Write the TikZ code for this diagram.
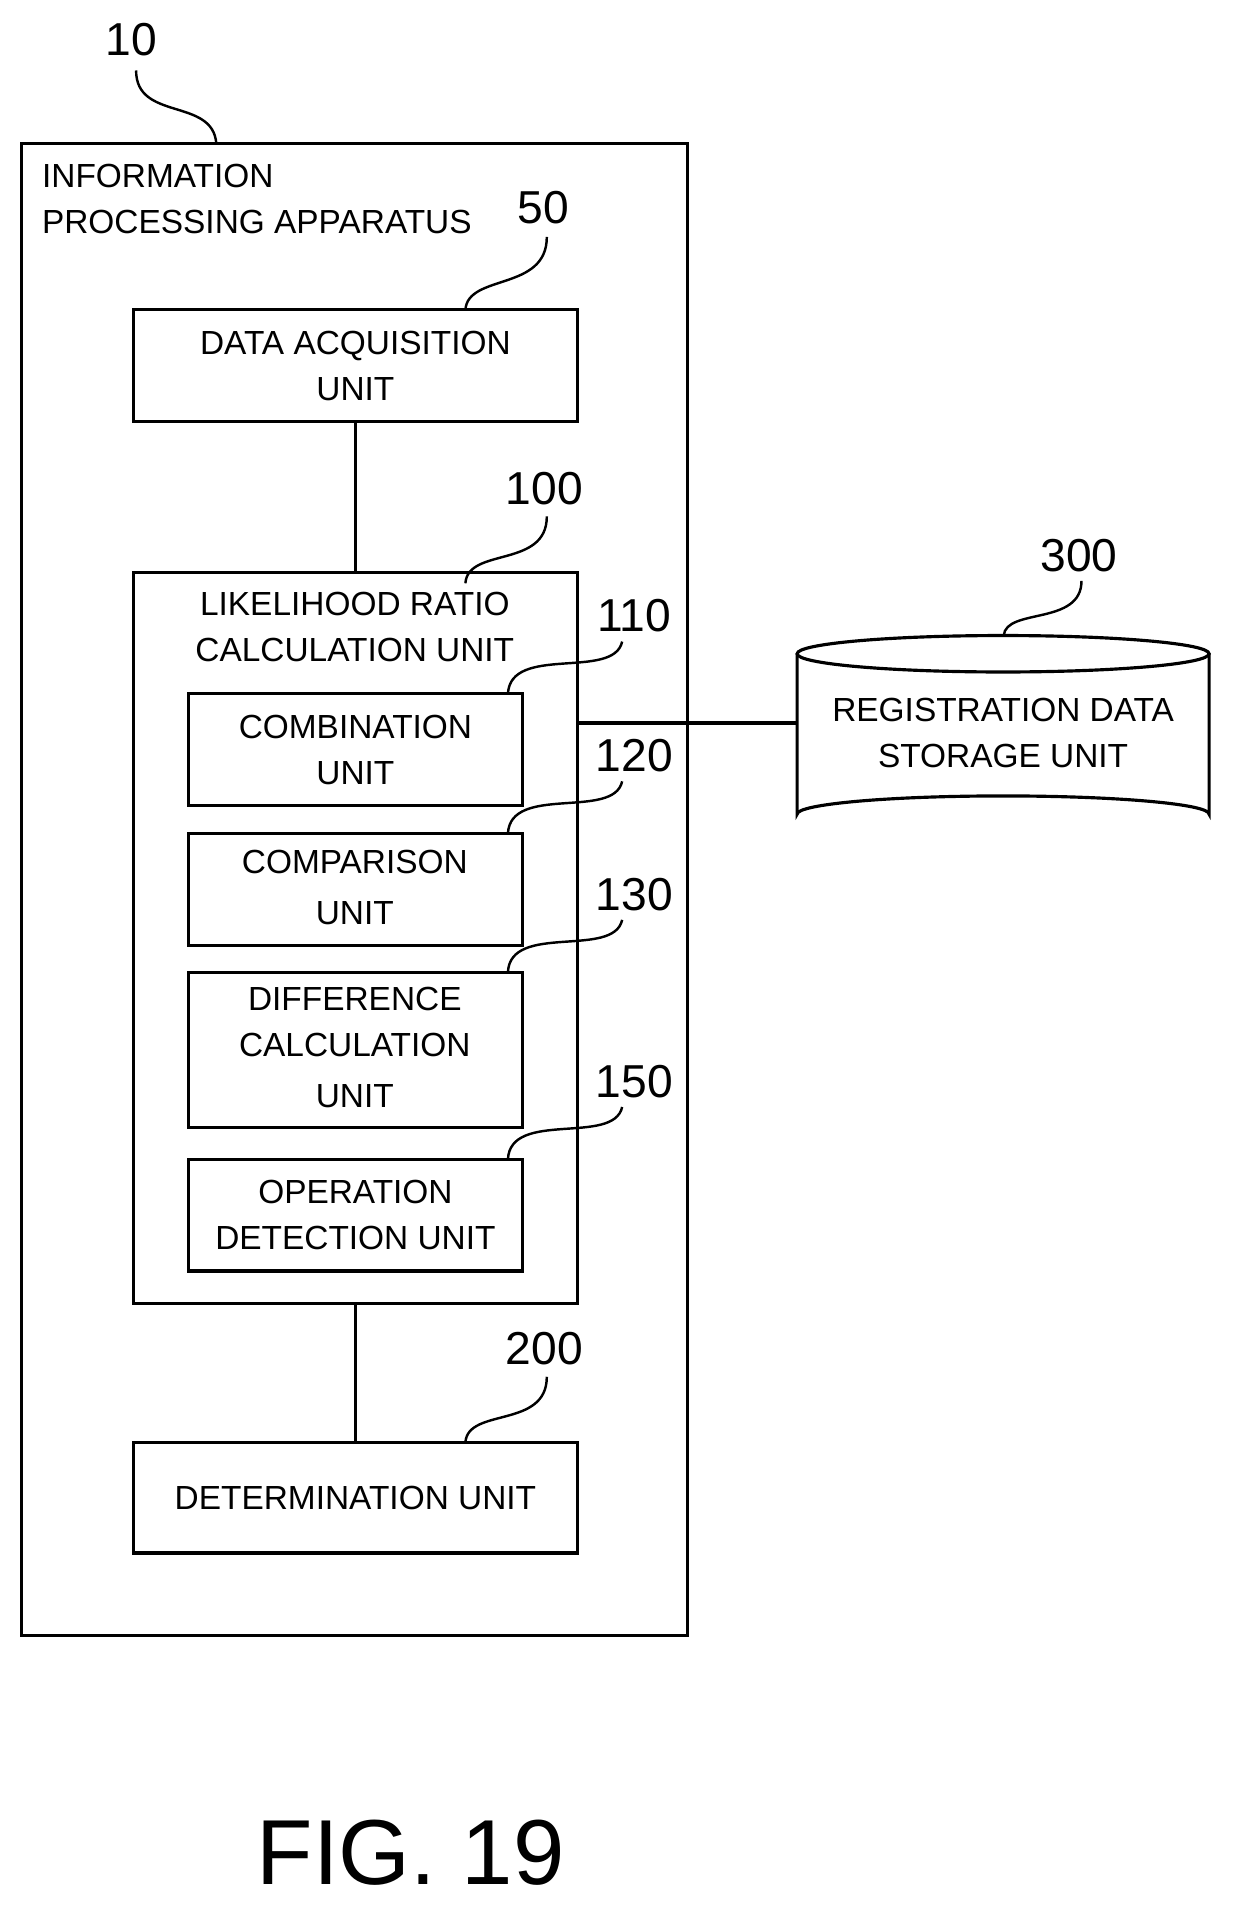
\documentclass[tikz,border=0pt]{standalone}
\usepackage{fontspec}
\setmainfont{Liberation Sans}
\usetikzlibrary{shapes.geometric}
\begin{document}
\begin{tikzpicture}[x=1pt,y=-1pt,line width=2.6pt,
 box/.style={draw,rectangle,inner sep=0pt},
 txt/.style={font=\fontsize{27.5}{38}\selectfont},
 num/.style={font=\fontsize{38}{40}\selectfont},
 lead/.style={line width=2pt}]
\useasboundingbox (0,0) rectangle (1024,1585);
\draw (18,118) rectangle (566,1346);
\node[num] (n10) at (108,33) {10};
\coordinate (e10) at (178,118);
\draw[lead] (112,58) .. controls (112,100) and (175,80) .. (e10);
\node[txt,anchor=west,align=left] (ipa) at (30,164) {INFORMATION\\PROCESSING APPARATUS};
% data acquisition
\node[box,minimum width=365,minimum height=92] (da) at (292.5,301) {};
\node[txt,align=center] (dat) at (da) {DATA ACQUISITION\\UNIT};
\node[num] (n50) at (447,171) {50};
\draw[lead] (450,195) .. controls (450,240) and (385,225) .. (383,255);
% LR
\node[box,minimum width=365,minimum height=602] (lr) at (292.5,772) {};
\node[txt,align=center] (lrt) at (292,516) {LIKELIHOOD RATIO\\CALCULATION UNIT};
\node[num] (n100) at (448,402) {100};
\draw[lead] (450,425) .. controls (450,468) and (385,450) .. (383,480);
% sub boxes
\node[box,minimum width=275,minimum height=92] (cb) at (292.5,617) {};
\node[txt,align=center] at (cb) {COMBINATION\\UNIT};
\node[num] (n110) at (522,507) {110};
\draw[lead] (512,528) .. controls (505,560) and (420,530) .. (418,571);
\node[box,minimum width=275,minimum height=92] (cp) at (292.5,732) {};
\node[txt,align=center] at (292,730) {COMPARISON\\[4pt]UNIT};
\node[num] (n120) at (522,622) {120};
\draw[lead] (512,643) .. controls (505,675) and (420,645) .. (418,686);
\node[box,minimum width=275,minimum height=128] (df) at (292.5,864) {};
\node[txt,align=center] at (292,862) {DIFFERENCE\\CALCULATION\\[4pt]UNIT};
\node[num] (n130) at (522,736) {130};
\draw[lead] (512,757) .. controls (505,789) and (420,759) .. (418,800);
\node[box,minimum width=275,minimum height=92] (op) at (292.5,1000) {};
\node[txt,align=center] at (op) {OPERATION\\DETECTION UNIT};
\node[num] (n150) at (522,890) {150};
\draw[lead] (512,911) .. controls (505,943) and (420,913) .. (418,954);
% determination
\node[box,minimum width=365,minimum height=91] (dt) at (292.5,1232.5) {};
\node[txt] at (dt) {DETERMINATION UNIT};
\node[num] (n200) at (448,1110) {200};
\draw[lead] (450,1133) .. controls (450,1176) and (385,1158) .. (383,1187);
\draw (da.south) -- (lr.north);
\draw (lr.south) -- (dt.north);
% cylinder
\draw (656,538) -- (656,670) arc[start angle=180,end angle=360,x radius=169.5,y radius=15] -- (995,538);
\draw (825.5,538) ellipse[x radius=169.5,y radius=15];
\node[txt,align=center] (rd) at (825.5,603) {REGISTRATION DATA\\STORAGE UNIT};
\node[num] (n300) at (888,457) {300};
\draw[lead] (890,478) .. controls (890,515) and (828,500) .. (826,523);
\draw (lr.east |- 0,595) -- (656,595);
\node[font=\fontsize{76}{80}\selectfont] (fig) at (338,1525) {FIG. 19};
\end{tikzpicture}
\end{document}
